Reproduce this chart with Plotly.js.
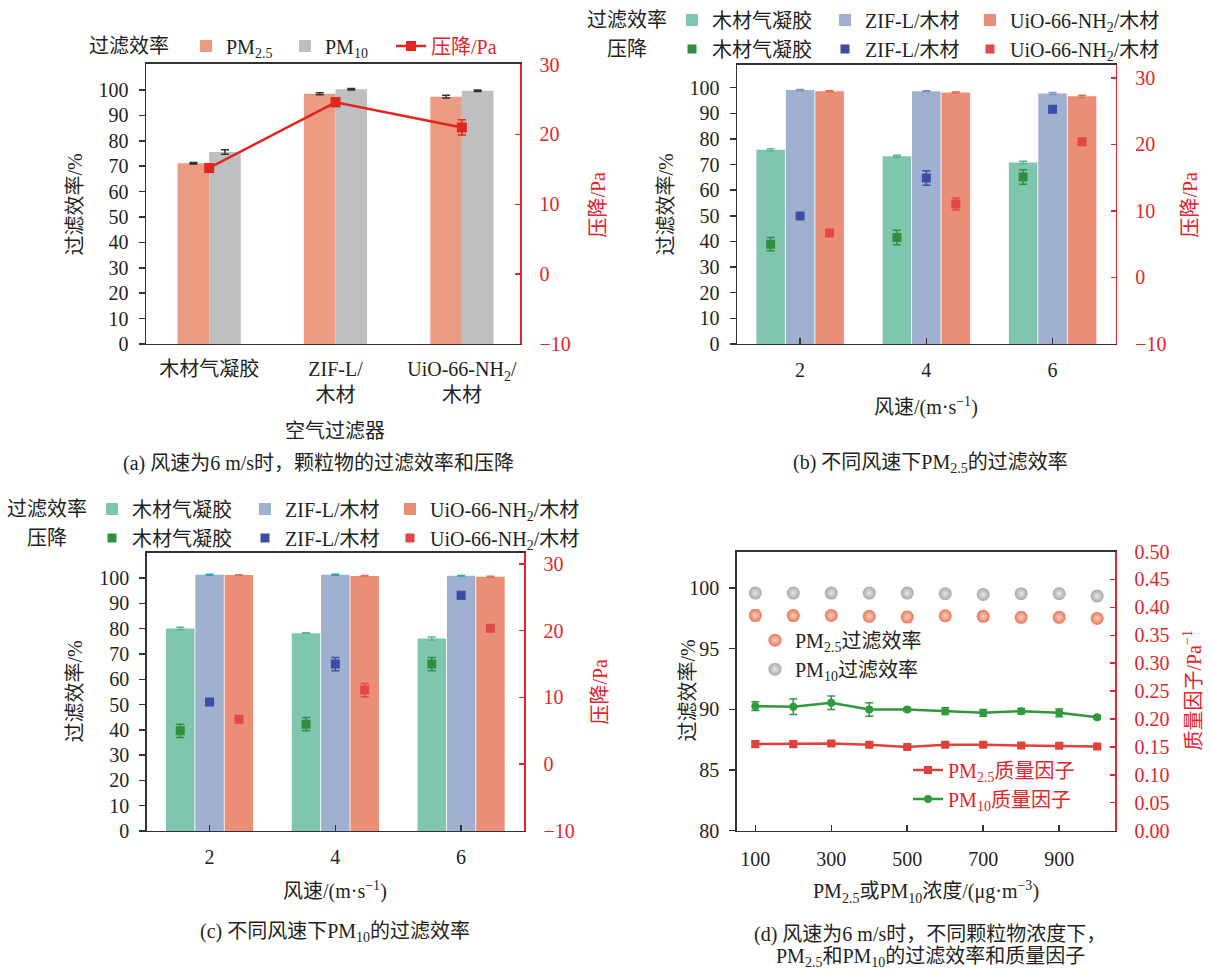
<!DOCTYPE html>
<html><head><meta charset="utf-8">
<script src="https://cdn.plot.ly/plotly-3.0.1.min.js"></script>
<style>body{margin:0;background:#fff}#chart{width:1212px;height:971px}</style>
</head><body><div id="chart"></div>
<script>
const W = 1212, H = 971;
// ---------- Panel (a) ----------
const filtersA = ['木材气凝胶', 'ZIF-L/<br>木材', 'UiO-66-NH<sub>2</sub>/<br>木材'];
const effPM25A = [71.2, 98.5, 97.4];
const effPM25AErr = [0.3, 0.4, 0.5];
const effPM10A = [75.6, 100.3, 99.7];
const effPM10AErr = [0.9, 0.3, 0.3];
const dropA = [15.2, 24.6, 21.0];
const dropAErr = [0.4, 0.6, 1.1];
const effTicks = [0, 10, 20, 30, 40, 50, 60, 70, 80, 90, 100];
// ---------- Panel (b) PM2.5 vs wind speed ----------
const speeds = ['2', '4', '6'];
const effWoodB = [75.8, 73.2, 70.8];
const effWoodBErr = [0.4, 0.4, 0.5];
const effZifB = [99.1, 98.6, 97.7];
const effZifBErr = [0.2, 0.2, 0.4];
const effUioB = [98.6, 98.1, 96.6];
const effUioBErr = [0.2, 0.2, 0.4];
const dropWoodB = [5.0, 6.0, 15.1];
const dropWoodBErr = [1.0, 1.1, 1.1];
const dropZifB = [9.25, 14.95, 25.3];
const dropZifBErr = [0.4, 1.1, 0.5];
const dropUioB = [6.7, 11.05, 20.4];
const dropUioBErr = [0.4, 0.9, 0.3];
// ---------- Panel (c) PM10 vs wind speed ----------
const effWoodC = [80.1, 78.2, 76.1];
const effWoodCErr = [0.5, 0.2, 0.6];
const effZifC = [101.3, 101.3, 100.9];
const effZifCErr = [0.2, 0.2, 0.1];
const effUioC = [101.2, 100.8, 100.5];
const effUioCErr = [0.1, 0.2, 0.2];
const dropWoodC = [5.0, 6.0, 15.0];
const dropWoodCErr = [1.0, 1.0, 1.0];
const dropZifC = [9.3, 15.0, 25.3];
const dropZifCErr = [0.4, 1.0, 0.5];
const dropUioC = [6.75, 11.1, 20.35];
const dropUioCErr = [0.3, 1.0, 0.3];
// ---------- Panel (d) concentration ----------
const conc = [100, 200, 300, 400, 500, 600, 700, 800, 900, 1000];
const effPM25D = [97.74, 97.72, 97.74, 97.66, 97.60, 97.70, 97.66, 97.58, 97.58, 97.49];
const effPM25DErr = [0.45, 0.4, 0.3, 0.35, 0.4, 0.3, 0.4, 0.35, 0.2, 0.15];
const effPM10D = [99.58, 99.58, 99.58, 99.58, 99.58, 99.53, 99.47, 99.53, 99.53, 99.33];
const qfPM25D = [0.155, 0.155, 0.156, 0.154, 0.150, 0.154, 0.154, 0.1525, 0.152, 0.1507];
const qfPM25DErr = [0.006, 0.006, 0.003, 0.004, 0.003, 0.004, 0.004, 0.004, 0.003, 0.002];
const qfPM10D = [0.223, 0.222, 0.229, 0.217, 0.217, 0.214, 0.211, 0.214, 0.211, 0.203];
const qfPM10DErr = [0.008, 0.014, 0.012, 0.012, 0.003, 0.006, 0.006, 0.005, 0.007, 0.003];
const concTicks = [100, 300, 500, 700, 900];

// ---------- styling ----------
const FONT = 'Liberation Serif, Noto Sans CJK SC, serif';
const INK = '#231F20';
const RED = '#E3242B';
const C_TEAL = '#80C6AF', C_BLUE = '#9FB0D0', C_SALMON = '#EA8F75';
const S_GREEN = '#2F8F3F', S_BLUE = '#3B4EA5', S_RED = '#E2474B';
const A_ORANGE = '#EC9C83', A_GRAY = '#BEBFC1', A_LINE = '#E1261F';

const xd = (a, b) => [a / W, b / W];
const yd = (top, bot) => [1 - bot / H, 1 - top / H];
const px = v => v / W;
const py = v => 1 - v / H;

function err(arr, color, w) {
  return {type: 'data', array: arr, visible: true, color: color, thickness: 1.5, width: w || 4};
}
function barT(x, y, e, color, name, xa, ya, legend, lw, ecol) {
  return {type: 'bar', x: x, y: y, name: name, xaxis: xa, yaxis: ya, legend: legend,
    marker: {color: color, line: {width: 0}}, error_y: err(e, ecol || color, 4),
    offsetgroup: name + xa, legendwidth: lw};
}
function dropT(x, y, e, color, name, xa, ya, legend, lw) {
  return {type: 'scatter', mode: 'markers', x: x, y: y, name: name, xaxis: xa, yaxis: ya,
    legend: legend, offsetgroup: name + xa, orientation: 'v',
    marker: {symbol: 'square', size: 9, color: color}, error_y: err(e, color, 4), legendwidth: lw};
}

const traces = [
  // (a)
  {type: 'bar', x: filtersA, y: effPM25A, name: 'PM<sub>2.5</sub>', xaxis: 'x', yaxis: 'y', legend: 'legend',
   marker: {color: A_ORANGE}, offset: -0.25, width: 0.25, legendwidth: 54,
   error_y: err(effPM25AErr, '#333', 4)},
  {type: 'bar', x: filtersA, y: effPM10A, name: 'PM<sub>10</sub>', xaxis: 'x', yaxis: 'y', legend: 'legend',
   marker: {color: A_GRAY}, offset: 0, width: 0.25, legendwidth: 61,
   error_y: err(effPM10AErr, '#333', 4)},
  {type: 'scatter', mode: 'lines+markers', x: filtersA, y: dropA, name: '<span style="color:' + RED + '">压降/Pa</span>',
   xaxis: 'x', yaxis: 'y2', legend: 'legend', line: {color: A_LINE, width: 2.5}, offsetgroup: 'a', orientation: 'v',
   marker: {symbol: 'square', size: 10, color: A_LINE}, error_y: err(dropAErr, A_LINE, 4), legendwidth: 75},
  // (b)
  barT(speeds, effWoodB, effWoodBErr, C_TEAL, '木材气凝胶', 'x2', 'y3', 'legend2', 108, '#5DB398'),
  barT(speeds, effZifB, effZifBErr, C_BLUE, 'ZIF-L/木材', 'x2', 'y3', 'legend2', 100, '#7F93BD'),
  barT(speeds, effUioB, effUioBErr, C_SALMON, 'UiO-66-NH<sub>2</sub>/木材', 'x2', 'y3', 'legend2', 160, '#DE7357'),
  dropT(speeds, dropWoodB, dropWoodBErr, S_GREEN, '木材气凝胶', 'x2', 'y4', 'legend3', 108),
  dropT(speeds, dropZifB, dropZifBErr, S_BLUE, 'ZIF-L/木材', 'x2', 'y4', 'legend3', 100),
  dropT(speeds, dropUioB, dropUioBErr, S_RED, 'UiO-66-NH<sub>2</sub>/木材', 'x2', 'y4', 'legend3', 160),
  // (c)
  barT(speeds, effWoodC, effWoodCErr, C_TEAL, '木材气凝胶', 'x3', 'y5', 'legend4', 108, '#5DB398'),
  barT(speeds, effZifC, effZifCErr, C_BLUE, 'ZIF-L/木材', 'x3', 'y5', 'legend4', 100, '#2AA3C4'),
  barT(speeds, effUioC, effUioCErr, C_SALMON, 'UiO-66-NH<sub>2</sub>/木材', 'x3', 'y5', 'legend4', 160, '#DE7357'),
  dropT(speeds, dropWoodC, dropWoodCErr, S_GREEN, '木材气凝胶', 'x3', 'y6', 'legend5', 108),
  dropT(speeds, dropZifC, dropZifCErr, S_BLUE, 'ZIF-L/木材', 'x3', 'y6', 'legend5', 100),
  dropT(speeds, dropUioC, dropUioCErr, S_RED, 'UiO-66-NH<sub>2</sub>/木材', 'x3', 'y6', 'legend5', 160),
  // (d)
  {type: 'scatter', mode: 'markers', x: conc, y: effPM25D, name: 'PM<sub>2.5</sub>过滤效率', xaxis: 'x4', yaxis: 'y7',
   legend: 'legend6', offsetgroup: 'd', orientation: 'v',
   marker: {symbol: 'circle', size: 13, color: '#E9785A', gradient: {type: 'radial', color: '#FAD2C4'}},
   error_y: err(effPM25DErr, '#E9785A', 4)},
  {type: 'scatter', mode: 'markers', x: conc, y: effPM10D, name: 'PM<sub>10</sub>过滤效率', xaxis: 'x4', yaxis: 'y7',
   legend: 'legend6', offsetgroup: 'd', orientation: 'v',
   marker: {symbol: 'circle', size: 13, color: '#A9A9AB', gradient: {type: 'radial', color: '#E6E6E7'}}},
  {type: 'scatter', mode: 'lines+markers', x: conc, y: qfPM25D, name: 'PM<sub>2.5</sub>质量因子', xaxis: 'x4', yaxis: 'y8',
   legend: 'legend7', offsetgroup: 'd', orientation: 'v',
   line: {color: '#E2403B', width: 2.5}, marker: {symbol: 'square', size: 8, color: '#E2403B'},
   error_y: err(qfPM25DErr, '#E2403B', 4)},
  {type: 'scatter', mode: 'lines+markers', x: conc, y: qfPM10D, name: 'PM<sub>10</sub>质量因子', xaxis: 'x4', yaxis: 'y8',
   legend: 'legend7', offsetgroup: 'd', orientation: 'v',
   line: {color: '#2E9A3C', width: 2.5}, marker: {symbol: 'circle', size: 8, color: '#2E9A3C'},
   error_y: err(qfPM10DErr, '#2E9A3C', 4)}
];

const base = {showgrid: false, zeroline: false, showline: true, linecolor: '#333', linewidth: 1.5,
  tickcolor: '#333', tickwidth: 1.5, tickfont: {size: 20, color: INK, family: FONT}, automargin: false};
const right = {showgrid: false, zeroline: false, showline: true, linecolor: RED, linewidth: 1.5,
  tickcolor: RED, tickwidth: 1.5, ticks: 'inside', ticklen: 5, tickfont: {size: 20, color: RED, family: FONT},
  side: 'right', ticklabelstandoff: 14, automargin: false};
const catX = Object.assign({}, base, {type: 'category', mirror: true});
const leftY = Object.assign({}, base, {ticks: 'outside', ticklen: 6, ticklabelstandoff: 6, tickvals: effTicks});

const legBase = {orientation: 'h', bgcolor: 'rgba(0,0,0,0)', borderwidth: 0, xanchor: 'left', yanchor: 'middle',
  font: {size: 20, color: INK, family: FONT}, traceorder: 'normal'};

function ann(text, x, y, o) {
  return Object.assign({text: text, x: px(x), y: py(y), xref: 'paper', yref: 'paper', showarrow: false,
    xanchor: 'center', yanchor: 'middle', font: {size: 20, color: INK, family: FONT}}, o || {});
}

const layout = {
  width: W, height: H, margin: {l: 0, r: 0, t: 0, b: 0}, paper_bgcolor: '#fff', plot_bgcolor: 'rgba(0,0,0,0)',
  font: {family: FONT, color: INK, size: 20},
  barmode: 'group', bargap: 0.3, bargroupgap: 0.03,
  scattermode: 'group', scattergap: 0.3,
  showlegend: true, hovermode: false,
  // (a)
  xaxis: Object.assign({}, catX, {domain: xd(146, 520), anchor: 'y', range: [-0.5, 2.46], ticks: '', ticklabelstandoff: 7}),
  yaxis: Object.assign({}, leftY, {domain: yd(62, 342.7), anchor: 'x', range: [0, 110.3]}),
  yaxis2: Object.assign({}, right, {overlaying: 'y', anchor: 'x', range: [-10, 30.1], dtick: 10, tick0: 0}),
  // (b)
  xaxis2: Object.assign({}, catX, {domain: xd(737, 1115.7), anchor: 'y3', range: [-0.5, 2.5], ticks: 'inside', ticklen: 6, ticklabelstandoff: 8}),
  yaxis3: Object.assign({}, leftY, {domain: yd(62.7, 342.7), anchor: 'x2', range: [0, 109]}),
  yaxis4: Object.assign({}, right, {overlaying: 'y3', anchor: 'x2', range: [-10, 32], dtick: 10, tick0: 0}),
  // (c)
  xaxis3: Object.assign({}, catX, {domain: xd(146.7, 524), anchor: 'y5', range: [-0.5, 2.5], ticks: 'inside', ticklen: 6, ticklabelstandoff: 8}),
  yaxis5: Object.assign({}, leftY, {domain: yd(551.7, 830.7), anchor: 'x3', range: [0, 110.1]}),
  yaxis6: Object.assign({}, right, {overlaying: 'y5', anchor: 'x3', range: [-10, 31.7], dtick: 10, tick0: 0}),
  // (d)
  xaxis4: Object.assign({}, base, {domain: xd(736.7, 1115), anchor: 'y7', range: [51, 1047], mirror: true,
    tickvals: concTicks, ticks: 'inside', ticklen: 6, ticklabelstandoff: 10}),
  yaxis7: Object.assign({}, base, {domain: yd(550.7, 830.3), anchor: 'x4', range: [80, 103], dtick: 5, tick0: 80,
    ticks: 'outside', ticklen: 6, ticklabelstandoff: 6}),
  yaxis8: Object.assign({}, right, {overlaying: 'y7', anchor: 'x4', range: [0, 0.5], dtick: 0.05, tick0: 0, tickformat: '.2f'}),
  // legends
  legend: Object.assign({}, legBase, {x: px(186), y: py(44)}),
  legend2: Object.assign({}, legBase, {x: px(672), y: py(18)}),
  legend3: Object.assign({}, legBase, {x: px(672), y: py(47)}),
  legend4: Object.assign({}, legBase, {x: px(92), y: py(508)}),
  legend5: Object.assign({}, legBase, {x: px(92), y: py(537)}),
  legend6: Object.assign({}, legBase, {orientation: 'v', x: px(755), y: py(654)}),
  legend7: Object.assign({}, legBase, {orientation: 'v', x: px(908), y: py(784), font: {size: 20, color: RED, family: FONT}}),
  annotations: [
    // (a)
    ann('过滤效率', 129, 44),
    ann('过滤效率/%', 75, 203, {textangle: -90}),
    ann('压降/Pa', 598, 203, {textangle: -90, font: {size: 20, color: RED, family: FONT}}),
    ann('空气过滤器', 335, 430),
    ann('(a) 风速为6 m/s时，颗粒物的过滤效率和压降', 318, 462),
    // (b)
    ann('过滤效率', 627, 18),
    ann('压降', 627, 47),
    ann('过滤效率/%', 666, 203, {textangle: -90}),
    ann('压降/Pa', 1190, 203, {textangle: -90, font: {size: 20, color: RED, family: FONT}}),
    ann('风速/(m·s<sup>−1</sup>)', 926, 405),
    ann('(b) 不同风速下PM<sub>2.5</sub>的过滤效率', 930, 462),
    // (c)
    ann('过滤效率', 47, 508),
    ann('压降', 47, 537),
    ann('过滤效率/%', 75, 691, {textangle: -90}),
    ann('压降/Pa', 600, 691, {textangle: -90, font: {size: 20, color: RED, family: FONT}}),
    ann('风速/(m·s<sup>−1</sup>)', 335, 890),
    ann('(c) 不同风速下PM<sub>10</sub>的过滤效率', 335, 932),
    // (d)
    ann('过滤效率/%', 688, 690, {textangle: -90}),
    ann('质量因子/Pa<sup>−1</sup>', 1192, 690, {textangle: -90, font: {size: 20, color: RED, family: FONT}}),
    ann('PM<sub>2.5</sub>或PM<sub>10</sub>浓度/(μg·m<sup>−3</sup>)', 926, 892),
    ann('(d) 风速为6 m/s时，不同颗粒物浓度下，', 930, 934),
    ann('PM<sub>2.5</sub>和PM<sub>10</sub>的过滤效率和质量因子', 930, 957)
  ]
};

Plotly.newPlot('chart', traces, layout, {staticPlot: true, displayModeBar: false});
</script>
</body></html>
